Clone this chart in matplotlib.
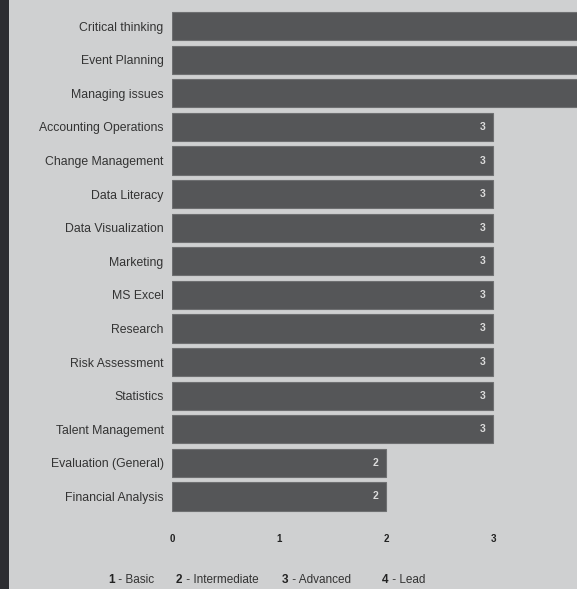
import numpy as np
import matplotlib.pyplot as plt
from matplotlib.patches import Rectangle

skills = ["Critical thinking", "Event Planning", "Managing issues",
          "Accounting Operations", "Change Management", "Data Literacy",
          "Data Visualization", "Marketing", "MS Excel", "Research",
          "Risk Assessment", "Statistics", "Talent Management",
          "Evaluation (General)", "Financial Analysis"]
levels = [4, 4, 4, 3, 3, 3, 3, 3, 3, 3, 3, 3, 3, 2, 2]
ticks = [0, 1, 2, 3]
legend_nums = ["1", "2", "3", "4"]
legend_names = ["Basic", "Intermediate", "Advanced", "Lead"]

bg = "#cfd0d1"
plt.rcParams['font.family'] = ['Liberation Sans', 'DejaVu Sans']

fig = plt.figure(figsize=(5.77, 5.89), dpi=100, facecolor=bg)
# dark strip on the left edge
fig.patches.append(Rectangle((0, 0), 9 / 577, 1, transform=fig.transFigure,
                             facecolor="#2c2d31", edgecolor="none"))

ax = fig.add_axes([172 / 577, 0.1287, 1 - 172 / 577, 0.984 - 0.1287])
ax.set_facecolor(bg)
xmax = (577 - 172) / 107
y = np.arange(len(skills))
ax.barh(y, levels, height=0.84, color="#555658", edgecolor="#6e6f71", linewidth=0.8)
for yi, v in zip(y, levels):
    # the value labels of the longest bars fall outside the cropped view
    if v - 0.1 < xmax - 0.1:
        ax.text(v - 0.1, yi, str(v), ha="center", va="center", color="#dcdcdc",
                fontsize=7.5, fontweight="bold")

ax.set_xlim(0, xmax)
ax.set_ylim(len(skills) - 0.5, -0.5)
ax.set_yticks(y)
ax.set_yticklabels(skills, fontsize=8.8, color="#333333")
ax.set_xticks(ticks)
ax.set_xticklabels([str(t) for t in ticks], fontsize=7, fontweight="bold", color="#222222")
ax.tick_params(axis="y", length=0, pad=6)
ax.tick_params(axis="x", length=0, pad=15)
for s in ax.spines.values():
    s.set_visible(False)

num_x = [108, 176, 282, 382]
for nx, num, name in zip(num_x, legend_nums, legend_names):
    fig.text(nx / 577, 1 - 580 / 589, num, fontsize=8.5, fontweight="bold",
             color="#222222", va="center", ha="left")
    fig.text((nx + 7) / 577, 1 - 580 / 589, " - " + name, fontsize=8.5,
             color="#333333", va="center", ha="left")

fig.savefig("out.png", dpi=100, facecolor=bg)
